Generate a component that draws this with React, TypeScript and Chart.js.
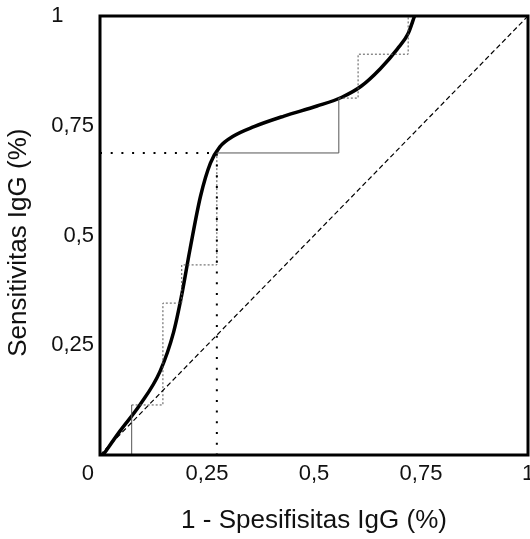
import React, { useEffect, useRef } from "react";
import { Chart, registerables } from "chart.js";

Chart.register(...registerables);

// Smooth fitted ROC curve (1 - specificity, sensitivity)
const curveX = [0.007, 0.047, 0.093, 0.14, 0.172, 0.19, 0.21, 0.235, 0.258, 0.28, 0.311, 0.36, 0.43, 0.507, 0.565, 0.61, 0.655, 0.695, 0.72, 0.735];
const curveY = [0.0, 0.055, 0.114, 0.19, 0.28, 0.36, 0.467, 0.59, 0.665, 0.702, 0.726, 0.748, 0.772, 0.795, 0.815, 0.84, 0.88, 0.925, 0.96, 1.0];

// Empirical (stepped) ROC points
const stepX = [0, 0.074, 0.147, 0.191, 0.273, 0.558, 0.603, 0.72];
const stepY = [0, 0.114, 0.346, 0.433, 0.688, 0.813, 0.913, 1.0];

// Chance diagonal
const diagX = [0, 1];
const diagY = [0, 1];

// Cut-off guide (dotted)
const cutX = [0, 0.273, 0.273];
const cutY = [0.688, 0.688, 0];

const tickValues = [0, 0.25, 0.5, 0.75, 1];
const xTickLabels = ["0    ", "0,25", "0,5", "0,75", "1"];
const yTickLabels = ["", "0,25", "0,5", "0,75", "1     "];

const FONT = "'Liberation Sans', Arial, sans-serif";

const pts = (xs: number[], ys: number[]) => xs.map((x, i) => ({ x, y: ys[i] }));

const framePlugin = {
  id: "frame",
  afterDatasetsDraw(chart: any) {
    const { ctx, chartArea } = chart;
    ctx.save();
    ctx.strokeStyle = "#000";
    ctx.lineWidth = 3;
    ctx.strokeRect(chartArea.left, chartArea.top, chartArea.right - chartArea.left, chartArea.bottom - chartArea.top);
    ctx.restore();
  },
};

const dottedSegs = new Set([1, 2, 3, 5, 6]);

export default function App() {
  const ref = useRef<HTMLCanvasElement>(null);
  useEffect(() => {
    if (!ref.current) return;
    const chart = new Chart(ref.current, {
      type: "scatter",
      data: {
        datasets: [
          {
            data: pts(diagX, diagY),
            showLine: true,
            borderColor: "#000",
            borderWidth: 1.2,
            borderDash: [5, 3],
            pointRadius: 0,
          },
          {
            data: pts(cutX, cutY),
            showLine: true,
            borderColor: "#000",
            borderWidth: 2,
            borderDash: [2, 8.7],
            pointRadius: 0,
          },
          {
            data: pts(stepX, stepY),
            showLine: true,
            stepped: "before",
            borderColor: "#555",
            borderWidth: 1,
            pointRadius: 0,
            segment: {
              borderDash: (c: any) => (dottedSegs.has(c.p0DataIndex) ? [2, 2] : undefined),
            },
          } as any,
          {
            data: pts(curveX, curveY),
            showLine: true,
            borderColor: "#000",
            borderWidth: 3.5,
            cubicInterpolationMode: "monotone",
            pointRadius: 0,
          },
        ],
      },
      options: {
        animation: false,
        responsive: false,
        maintainAspectRatio: false,
        layout: { padding: { top: 16, right: 2, left: 0, bottom: 0 } },
        plugins: { legend: { display: false }, tooltip: { enabled: false } },
        scales: {
          x: {
            type: "linear",
            min: 0,
            max: 1,
            afterBuildTicks: (s: any) => {
              s.ticks = tickValues.map((v) => ({ value: v }));
            },
            afterFit: (s: any) => {
              s.height = 84;
              s.paddingLeft = 0;
              s.paddingRight = 0;
            },
            grid: { display: false, drawTicks: false },
            border: { display: false },
            ticks: {
              autoSkip: false,
              maxRotation: 0,
              padding: 6,
              color: "#111",
              font: { family: FONT, size: 22 },
              callback: (v: any) => {
                const i = tickValues.indexOf(Number(v));
                return i >= 0 ? xTickLabels[i] : "";
              },
            },
            title: {
              display: true,
              text: "1 - Spesifisitas IgG (%)",
              color: "#111",
              font: { family: FONT, size: 26 },
              padding: { top: 0, bottom: 3 },
            },
          },
          y: {
            type: "linear",
            min: 0,
            max: 1,
            afterBuildTicks: (s: any) => {
              s.ticks = tickValues.map((v) => ({ value: v }));
            },
            afterFit: (s: any) => {
              s.width = 100;
              s.paddingTop = 0;
              s.paddingBottom = 0;
            },
            grid: { display: false, drawTicks: false },
            border: { display: false },
            ticks: {
              autoSkip: false,
              padding: 6,
              color: "#111",
              font: { family: FONT, size: 22 },
              callback: (v: any) => {
                const i = tickValues.indexOf(Number(v));
                return i >= 0 ? yTickLabels[i] : "";
              },
            },
            title: {
              display: true,
              text: "Sensitivitas IgG (%)  ",
              color: "#111",
              font: { family: FONT, size: 26 },
              padding: { top: 3, bottom: 0 },
            },
          },
        },
      },
      plugins: [framePlugin],
    });
    return () => chart.destroy();
  }, []);
  return (
    <div style={{ position: "fixed", left: 0, top: 0, width: 530, height: 539, background: "#fff" }}>
      <canvas ref={ref} width={530} height={539} />
    </div>
  );
}
